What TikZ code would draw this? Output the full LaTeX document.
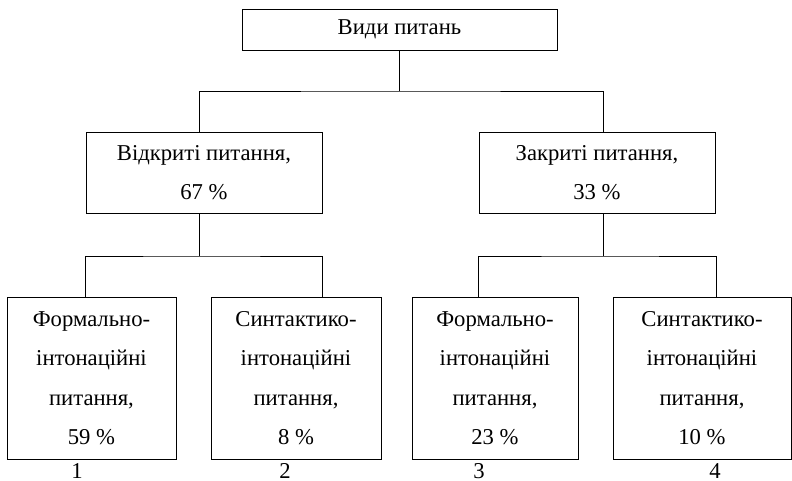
\documentclass[tikz,border=0pt]{standalone}
\usepackage{fontspec}
\setmainfont{Liberation Serif}
\usetikzlibrary{positioning,calc}

\begin{document}
\begin{tikzpicture}[
  x=0.75pt, y=-0.75pt,
  every node/.style={align=center, font=\fontsize{17pt}{29.6pt}\selectfont},
  box/.style={draw, line width=0.7pt, inner sep=0pt},
  midbox/.style={box, minimum width=177pt, minimum height=60.75pt},
  leafbox/.style={box, minimum height=121.5pt},
  wire/.style={line width=0.7pt},
  num/.style={anchor=base, inner sep=0pt},
]
  \useasboundingbox (0,0) rectangle (792,481);

  % Root
  \node[box, minimum width=236.25pt, minimum height=30.75pt] (kinds) at (399.5,29.5)
    {Види питань};

  % Second level
  \node[midbox] (open)   at (204,172.5) {Відкриті питання,\\67 \%};
  \node[midbox] (closed) at (597,172.5) {Закриті питання,\\33 \%};

  % Leaves
  \node[leafbox, minimum width=126.75pt] (formA) at (91.5,378)
    {Формально-\\інтонаційні\\питання,\\59 \%};
  \node[leafbox, minimum width=127.5pt]  (syntA) at (296,378)
    {Синтактико-\\інтонаційні\\питання,\\8 \%};
  \node[leafbox, minimum width=124.5pt]  (formB) at (495,378)
    {Формально-\\інтонаційні\\питання,\\23 \%};
  \node[leafbox, minimum width=133.5pt]  (syntB) at (702,378)
    {Синтактико-\\інтонаційні\\питання,\\10 \%};

  % Numbers under the leaves
  \node[num] (n1) at (77,478)  {1};
  \node[num] (n2) at (285,478) {2};
  \node[num] (n3) at (479,478) {3};
  \node[num] (n4) at (715,478) {4};

  % Bus lines
  \coordinate (bus0) at (400,91);
  \coordinate (busL) at (199.5,256);
  \coordinate (busR) at (603,256);

  % Root to second level
  \draw[wire] (kinds.south) -- (kinds.south |- bus0);
  \draw[wire] (open.north -| busL) |- (bus0) -| (closed.north -| busR);

  % Second level to leaves
  \draw[wire] (open.south -| busL) -- (busL);
  \draw[wire] (open.south west |- formA.north) |- (busL)
              -| (open.south east |- syntA.north);
  \draw[wire] (closed.south -| busR) -- (busR);
  \draw[wire] (closed.south west |- formB.north) |- (busR)
              -| ([xshift=0.75pt]closed.south east |- syntB.north);
\end{tikzpicture}
\end{document}
